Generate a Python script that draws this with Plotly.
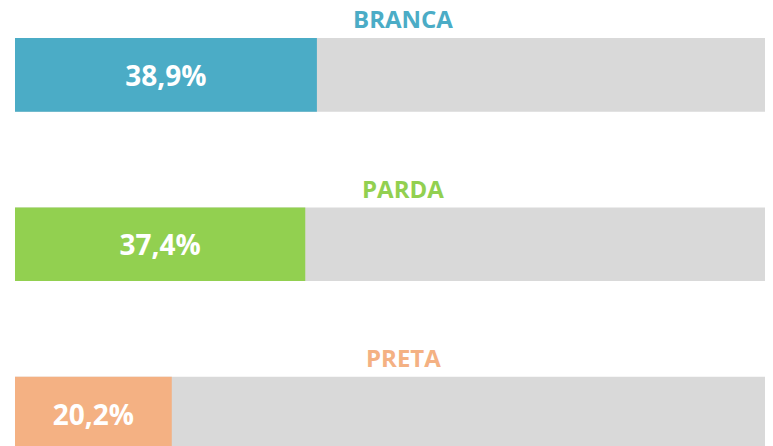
import plotly.graph_objects as go

# race/colour shares (%)
categories = ["BRANCA", "PARDA", "PRETA"]
values = [38.9, 37.4, 20.2]
labels = ["38,9%", "37,4%", "20,2%"]
colors = ["#4BACC6", "#92D050", "#F4B183"]
track = [100, 100, 100]

fig = go.Figure()

# grey full-length track behind each bar
fig.add_trace(go.Bar(
    y=categories, x=track, orientation="h",
    marker=dict(color="#D9D9D9", line=dict(width=0)),
    width=0.435, hoverinfo="skip", showlegend=False
))

fig.add_trace(go.Bar(
    y=categories, x=values, orientation="h",
    marker=dict(color=colors, line=dict(width=0)),
    width=0.435,
    text=labels, textposition="inside", insidetextanchor="middle",
    textangle=0, constraintext="none",
    textfont=dict(family="Open Sans", size=28, color="white", weight="bold"),
    showlegend=False
))

# category titles above each bar
for cat, col in zip(categories, colors):
    fig.add_annotation(
        x=50, y=cat, xref="x", yref="y",
        text=cat, showarrow=False, yshift=56, yanchor="middle",
        font=dict(family="Open Sans", size=24, color=col, weight="bold")
    )

fig.update_layout(
    width=773, height=446,
    margin=dict(l=7, r=0, t=0, b=0),
    barmode="overlay",
    plot_bgcolor="white", paper_bgcolor="white",
    xaxis=dict(range=[0, 98.7], visible=False, fixedrange=True),
    yaxis=dict(type="category", categoryarray=categories,
               range=[2.2385, -0.3953], visible=False, fixedrange=True),
)

fig.write_html("out.html")
